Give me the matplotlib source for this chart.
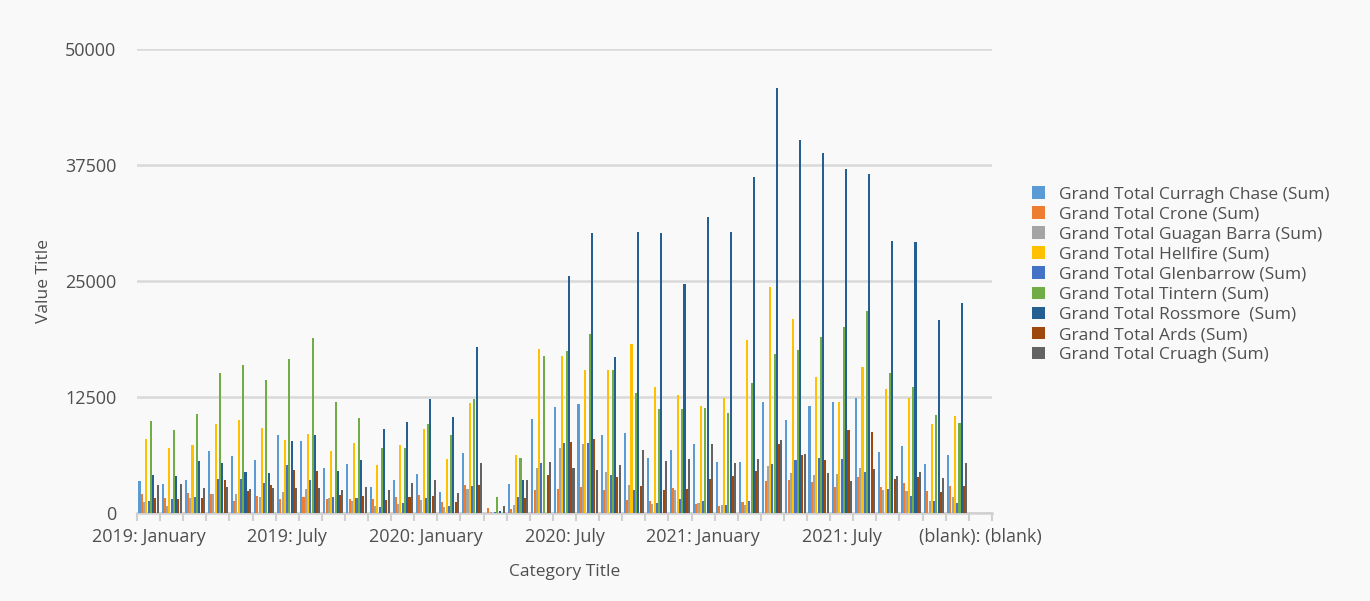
import numpy as np
import matplotlib.pyplot as plt

plt.rcParams['font.family'] = ['Open Sans', 'DejaVu Sans']

# ---- data ----
years = ['2019', '2020', '2021']
months = ['January', 'February', 'March', 'April', 'May', 'June', 'July',
          'August', 'September', 'October', 'November', 'December']
categories = [f'{y}: {m}' for y in years for m in months] + ['(blank): (blank)']

curragh = [3450, 3160, 3590, 6645, 6105, 5750, 8440, 7720, 4885, 5245, 2765, 3520,
           4240, 2230, 6430, 0, 3090, 10090, 11390, 11750, 8405, 8585, 5960, 6790,
           7435, 5460, 5530, 12000, 10020, 11530, 12000, 12430, 6540, 7185, 5245, 6250, 0]
crone = [2010, 1650, 2190, 2050, 1260, 1870, 1510, 1760, 1470, 1470, 1510, 1760,
         1940, 1150, 2980, 500, 420, 2480, 2620, 2800, 2500, 1400, 1290, 2730,
         970, 750, 1185, 3410, 3590, 3305, 2800, 3840, 2770, 3200, 2335, 2945, 0]
guagan = [1185, 790, 1580, 2010, 2050, 1760, 2230, 2550, 1650, 1290, 720, 935,
          1365, 610, 2590, 120, 820, 4830, 6970, 7435, 4400, 2980, 1005, 2480,
          1040, 860, 825, 5100, 4275, 4130, 4200, 4850, 2440, 2335, 1330, 1725, 0]
hellfire = [7975, 7005, 7290, 9625, 9985, 9195, 7830, 8550, 6645, 7510, 5210, 7290,
            9015, 5770, 11820, 0, 6300, 17710, 16950, 15410, 15410, 18250, 13610, 12730,
            11530, 12360, 18640, 24390, 20900, 14620, 12000, 15700, 13360, 12360, 9555, 10450, 0]
glenbarrow = [1330, 1470, 1690, 3630, 3630, 3200, 5140, 3520, 1690, 1615, 680, 1040,
              1580, 770, 2875, 140, 1760, 5370, 7510, 7580, 4095, 2480, 1110, 1530,
              1330, 860, 1330, 5280, 5710, 5890, 5820, 4420, 2590, 1830, 1330, 1110, 0]
tintern = [9915, 8945, 10630, 15120, 15910, 14300, 16560, 18890, 12000, 10270, 7005, 7005,
           9625, 8405, 12250, 1760, 5940, 16950, 17460, 19325, 15460, 12970, 11240, 11220,
           11280, 10810, 13970, 17130, 17565, 19000, 20040, 21770, 15090, 13540, 10560, 9735, 0]
rossmore = [4060, 3990, 5570, 5390, 4380, 4275, 7795, 8405, 4525, 5675, 9015, 9805,
            12250, 10345, 17850, 180, 3570, 0, 25540, 30140, 16810, 30320, 30210, 24680,
            31900, 30245, 36240, 45760, 40190, 38790, 37100, 36500, 29310, 29200, 20800, 22590, 0]
ards = [1650, 1470, 1650, 3590, 2370, 2980, 4670, 4560, 1975, 1870, 1365, 1725,
        1870, 1150, 3015, 0, 1670, 4095, 7650, 7975, 3880, 2910, 2480, 2550,
        3660, 4020, 4560, 7435, 6250, 5750, 8980, 8765, 3630, 3840, 2260, 2945, 0]
cruagh = [3017, 3160, 2660, 2840, 2620, 2690, 2730, 2730, 2440, 2765, 2440, 3270,
          3520, 2210, 5350, 770, 3570, 5550, 4850, 4600, 5170, 6790, 5570, 5820,
          7435, 5425, 5820, 7865, 6320, 4275, 3480, 4705, 4020, 4455, 3770, 5350, 0]

series_names = ['Grand Total Curragh Chase (Sum)', 'Grand Total Crone (Sum)',
                'Grand Total Guagan Barra (Sum)', 'Grand Total Hellfire (Sum)',
                'Grand Total Glenbarrow (Sum)', 'Grand Total Tintern (Sum)',
                'Grand Total Rossmore  (Sum)', 'Grand Total Ards (Sum)',
                'Grand Total Cruagh (Sum)']
series_values = [curragh, crone, guagan, hellfire, glenbarrow, tintern, rossmore, ards, cruagh]
colors = ['#5B9BD5', '#ED7D31', '#A5A5A5', '#FFC000', '#4472C4',
          '#70AD47', '#255E91', '#9E480E', '#636363']

# ---- figure ----
bg = '#F9F9F9'
txt = '#4F4F4F'
fig = plt.figure(figsize=(13.7, 6.01), dpi=100, facecolor=bg)
ax = fig.add_axes([0.1, 0.1464, 0.624, 0.772], facecolor=bg)

x = np.arange(len(categories))
n = len(series_values)
w = 0.098
for k, (name, vals, c) in enumerate(zip(series_names, series_values, colors)):
    offs = (k - (n - 1) / 2) * w
    ax.bar(x + offs, vals, width=w * 0.92, color=c, label=name, zorder=3, linewidth=0)

ax.set_ylim(0, 50000)
ax.set_xlim(-0.5, len(categories) - 0.5)
ax.set_yticks([0, 12500, 25000, 37500, 50000])
ax.grid(axis='y', color='#D9D9D9', linewidth=1.8, zorder=0)

ax.set_xticks(x[::6])
ax.set_xticklabels(categories[::6])
ax.set_xticks(np.arange(-0.5, len(categories)), minor=True)
ax.tick_params(axis='x', which='major', length=0, pad=11, labelsize=13, labelcolor=txt)
ax.tick_params(axis='x', which='minor', length=6, width=1.5, color='#D0D0D0')
ax.tick_params(axis='y', length=0, pad=15, labelsize=13, labelcolor=txt)

for s in ['top', 'right', 'left']:
    ax.spines[s].set_visible(False)
ax.spines['bottom'].set_color('#D0D0D0')
ax.spines['bottom'].set_linewidth(1.8)

ax.set_ylabel('Value Title', fontsize=12.5, color=txt, labelpad=9)
ax.set_xlabel('Category Title', fontsize=12.5, color=txt, labelpad=13)

ax.legend(loc='center left', bbox_to_anchor=(0.742, 0.543), bbox_transform=fig.transFigure,
          frameon=False, fontsize=12.5, labelcolor=txt, handlelength=0.75, handleheight=0.75,
          handletextpad=0.8, labelspacing=0.21)

fig.savefig('out.png', dpi=100, facecolor=bg)
